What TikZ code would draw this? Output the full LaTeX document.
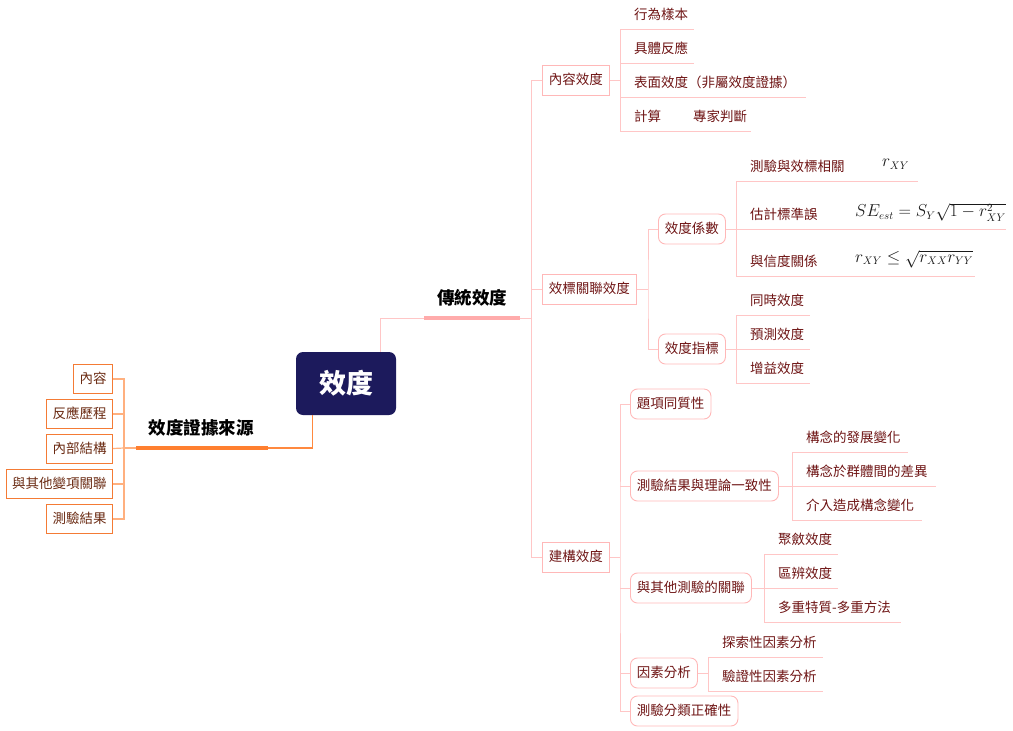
\documentclass[tikz,border=0pt]{standalone}
\usepackage{fontspec}
\setmainfont{Noto Sans CJK TC}
\definecolor{plc}{HTML}{FFC6C6}
\definecolor{pbar}{HTML}{FFABAB}
\definecolor{pborder}{HTML}{FFB8B8}
\definecolor{maroon}{HTML}{6E1414}
\definecolor{navy}{HTML}{1C1A5C}
\definecolor{obar}{HTML}{FF7F2F}
\definecolor{olc}{HTML}{FFB07F}
\definecolor{oborder}{HTML}{F47B35}
\definecolor{brownt}{HTML}{6A2A12}
\tikzset{
  txt/.style={font=\fontsize{13.5}{16}\selectfont, text=maroon, inner sep=0pt, text height=11.5pt, text depth=2pt},
  sq/.style={txt, draw=pborder, line width=0.9pt, minimum height=30pt, inner xsep=6.5pt, anchor=west},
  rd/.style={sq, rounded corners=7pt},
  leaf/.style={txt, anchor=west},
  pl/.style={draw=plc, line width=1pt},
  ol/.style={draw=olc, line width=1.2pt},
  lbox/.style={txt, text=brownt, draw=oborder, line width=0.9pt, minimum height=29pt, inner xsep=6pt, anchor=east},
  title/.style={font=\fontsize{17.5}{20}\selectfont\bfseries, text=black, inner sep=0pt},
  mth/.style={anchor=west, inner sep=0pt, text=black!90, font=\fontsize{16}{18}\selectfont}
}
\begin{document}
\begin{tikzpicture}[x=1pt,y=-1pt]
\useasboundingbox (0,0) rectangle (1013,731);

% root
\node[fill=navy, rounded corners=7pt, minimum width=100pt, minimum height=63pt, inner sep=0pt,
      text=white, font=\fontsize{27}{30}\selectfont\bfseries] (root) at (346,383.5) {效度};

% ---------- traditional validity ----------
\node[title] (trad) at (472,298) {傳統效度};
\coordinate (tbL) at (424,318);
\coordinate (tbR) at (520,318);
\coordinate (tj) at (531,318);
\draw[pl] ([xshift=-16pt]root.north east) |- (tbL);
\draw[pbar, line width=4.5pt] (tbL) -- (tbR);
\draw[pl] (tbR) -- (tj);

\node[sq] (ncontent) at (542,80) {內容效度};
\node[sq] (ncrit) at (542,289) {效標關聯效度};
\node[sq] (nconst) at (542,557) {建構效度};
\draw[pl] (ncontent.west) -- (ncontent.west -| tj) -- (nconst.west -| tj) -- (nconst.west);
\draw[pl] (ncrit.west) -- (ncrit.west -| tj);

% content validity leaves
\coordinate (c1) at (620,29);
\coordinate (c4) at (620,131);
\draw[pl] (ncontent.east) -- (ncontent.east -| c1);
\draw[pl] (c1) -- (c4);
\node[leaf] (l11) at (634,14.5) {行為樣本};
\node[leaf] (l12) at (634,48.5) {具體反應};
\node[leaf] (l13) at (634,82.5) {表面效度（非屬效度證據）};
\node[leaf] (l14) at (634,116.5) {計算\hspace{32pt}專家判斷};
\draw[pl] (620,29) -- (694,29);
\draw[pl] (620,63) -- (694,63);
\draw[pl] (620,97) -- (806,97);
\draw[pl] (620,131) -- (751,131);

% criterion validity
\coordinate (v2) at (648,289);
\node[rd] (ncoef) at (658,229) {效度係數};
\node[rd] (nind) at (658,349) {效度指標};
\draw[pl] (ncrit.east) -- (v2);
\draw[pl] (ncoef.west) -| (v2) |- (nind.west);

% coefficient leaves
\draw[pl] (ncoef.east) -- (736,229);
\draw[pl] (736,181) -- (736,276);
\node[leaf] (l21) at (750,166.5) {測驗與效標相關};
\node[leaf] (l22) at (750,214.5) {估計標準誤};
\node[leaf] (l23) at (750,261.5) {與信度關係};
\draw[pl] (736,181) -- (918,181);
\draw[pl] (736,229) -- (1006,229);
\draw[pl] (736,276) -- (975,276);
\node[mth] (m1) at (882,164) {$r_{XY}$};
\node[mth] (m2) at (855,212) {$SE_{est}=S_Y\sqrt{1-r_{XY}^2}$};
\node[mth] (m3) at (855,259) {$r_{XY}\leq\sqrt{r_{XX}r_{YY}}$};

% indicator leaves
\draw[pl] (nind.east) -- (736,349);
\draw[pl] (736,315) -- (736,383);
\node[leaf] (l31) at (750,300.5) {同時效度};
\node[leaf] (l32) at (750,334.5) {預測效度};
\node[leaf] (l33) at (750,368.5) {增益效度};
\draw[pl] (736,315) -- (810,315);
\draw[pl] (736,349) -- (810,349);
\draw[pl] (736,383) -- (810,383);

% construct validity
\coordinate (v5) at (620,557);
\node[rd] (k1) at (630,404) {題項同質性};
\node[rd] (k2) at (630,486) {測驗結果與理論一致性};
\node[rd] (k3) at (630,588) {與其他測驗的關聯};
\node[rd] (k4) at (630,673) {因素分析};
\node[rd] (k5) at (630,711) {測驗分類正確性};
\draw[pl] (nconst.east) -- (v5);
\draw[pl] (k1.west) -| (v5) |- (k5.west);
\draw[pl] (k2.west) -- (k2.west -| v5);
\draw[pl] (k3.west) -- (k3.west -| v5);
\draw[pl] (k4.west) -- (k4.west -| v5);

% k2 leaves
\draw[pl] (k2.east) -- (792,486);
\draw[pl] (792,452) -- (792,520);
\node[leaf] (l41) at (806,437.5) {構念的發展變化};
\node[leaf] (l42) at (806,471.5) {構念於群體間的差異};
\node[leaf] (l43) at (806,505.5) {介入造成構念變化};
\draw[pl] (792,452) -- (908,452);
\draw[pl] (792,486) -- (936,486);
\draw[pl] (792,520) -- (922,520);

% k3 leaves
\draw[pl] (k3.east) -- (764,588);
\draw[pl] (764,554) -- (764,622);
\node[leaf] (l51) at (778,539.5) {聚斂效度};
\node[leaf] (l52) at (778,573.5) {區辨效度};
\node[leaf] (l53) at (778,607.5) {多重特質-多重方法};
\draw[pl] (764,554) -- (838,554);
\draw[pl] (764,588) -- (838,588);
\draw[pl] (764,622) -- (901,622);

% k4 leaves
\draw[pl] (k4.east) -- (708,673);
\draw[pl] (708,657) -- (708,691);
\node[leaf] (l61) at (722,642.5) {探索性因素分析};
\node[leaf] (l62) at (722,676.5) {驗證性因素分析};
\draw[pl] (708,657) -- (823,657);
\draw[pl] (708,691) -- (823,691);

% ---------- sources of evidence (left) ----------
\node[title] (src) at (201,428) {效度證據來源};
\coordinate (obL) at (136,448);
\coordinate (obR) at (268,448);
\coordinate (lj) at (124,448);
\draw[draw=obar!80!olc, line width=1.2pt] ([xshift=17pt]root.south west) |- (obR);
\draw[obar, line width=4.5pt] (obL) -- (obR);
\draw[ol] (obL) -- (lj);

\node[lbox] (e1) at (113,379) {內容};
\node[lbox] (e2) at (113,414) {反應歷程};
\node[lbox] (e3) at (113,448.5) {內部結構};
\node[lbox] (e4) at (113,484) {與其他變項關聯};
\node[lbox] (e5) at (113,519) {測驗結果};
\draw[ol] (e1.east) -| (lj) |- (e5.east);
\draw[ol] (e2.east) -- (e2.east -| lj);
\draw[ol] (e3.east) -- (lj);
\draw[ol] (e4.east) -- (e4.east -| lj);
\end{tikzpicture}
\end{document}
